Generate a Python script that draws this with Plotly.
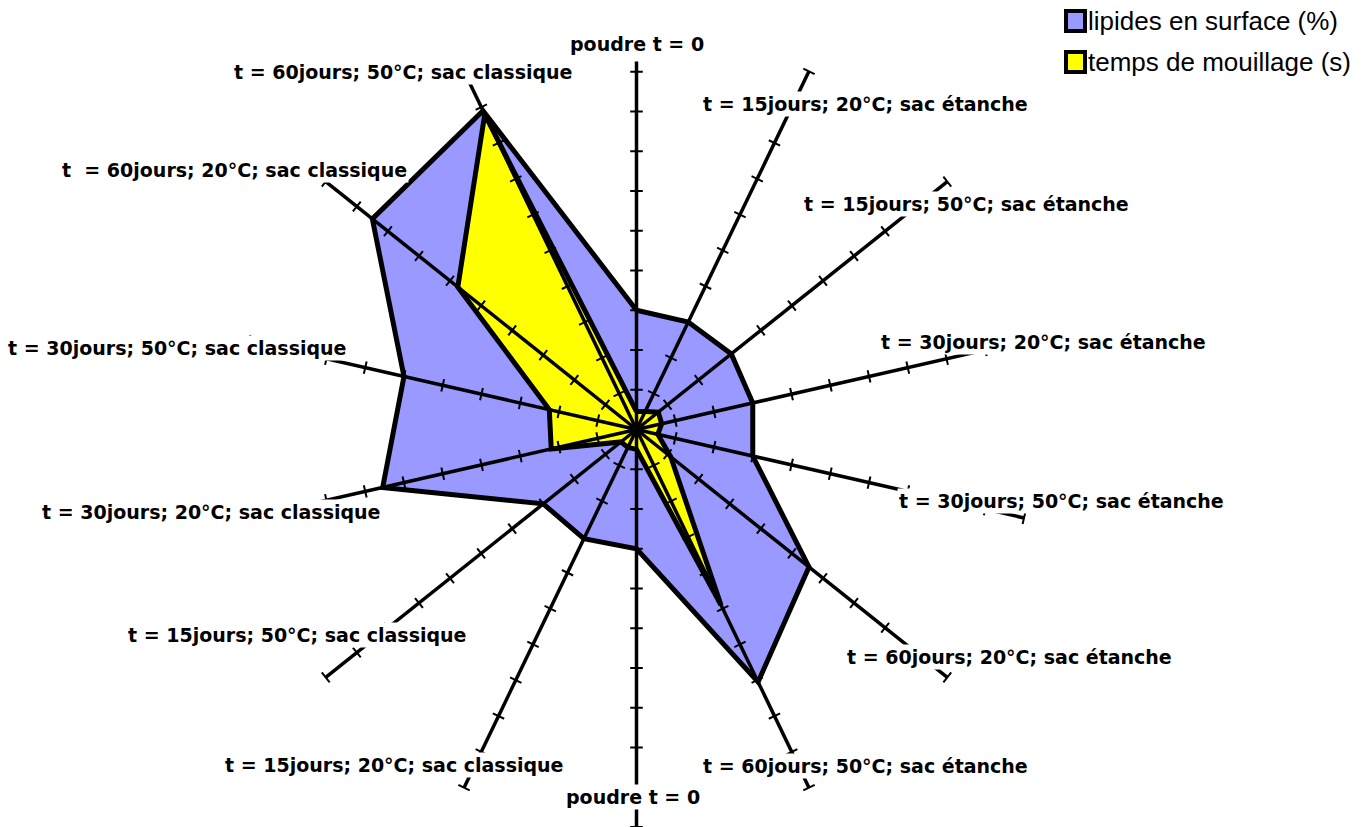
import plotly.graph_objects as go

# Axis labels, clockwise from the top
categories = [
    "poudre t = 0",
    "t = 15jours; 20°C; sac étanche",
    "t = 15jours; 50°C; sac étanche",
    "t = 30jours; 20°C; sac étanche",
    "t = 30jours; 50°C; sac étanche",
    "t = 60jours; 20°C; sac étanche",
    "t = 60jours; 50°C; sac étanche",
    "poudre t = 0",
    "t = 15jours; 20°C; sac classique",
    "t = 15jours; 50°C; sac classique",
    "t = 30jours; 20°C; sac classique",
    "t = 30jours; 50°C; sac classique",
    "t  = 60jours; 20°C; sac classique",
    "t = 60jours; 50°C; sac classique",
]

# Series values
lipides_surface = [3.0, 3.0, 3.05, 3.0, 3.0, 5.55, 7.05, 3.0, 3.05, 3.0, 6.55, 6.0, 8.5, 8.9]
temps_mouillage = [0.45, 0.5, 0.7, 0.65, 0.55, 1.1, 4.9, 0.5, 0.5, 0.5, 2.2, 2.25, 5.75, 8.8]

series_names = ["lipides en surface (%)", "temps de mouillage (s)"]
series_colors = ["#9999FF", "#FFFF00"]

# Radial scale: graduations 1..10 on every spoke
scale_ticks = list(range(1, 11))
r_max = 10

n = len(categories)
step = 360.0 / n
theta = [i * step for i in range(n)]

fig = go.Figure()

# Filled polygons (closed by repeating the first vertex)
for name, vals, col in zip(series_names, [lipides_surface, temps_mouillage], series_colors):
    fig.add_trace(go.Scatterpolar(
        r=vals + vals[:1],
        theta=theta + theta[:1],
        mode="lines",
        fill="toself",
        fillcolor=col,
        line=dict(color="black", width=5),
        name=name,
        showlegend=False,
        hoverinfo="skip",
    ))

# Spokes
spoke_r, spoke_t = [], []
for t in theta:
    spoke_r += [0, r_max, None]
    spoke_t += [t, t, None]
fig.add_trace(go.Scatterpolar(
    r=spoke_r, theta=spoke_t, mode="lines",
    line=dict(color="black", width=3.5),
    showlegend=False, hoverinfo="skip",
))

# Tick marks perpendicular to each spoke
tick_r, tick_t, tick_a = [], [], []
for t in theta:
    for v in scale_ticks:
        tick_r.append(v)
        tick_t.append(t)
        tick_a.append(t)
fig.add_trace(go.Scatterpolar(
    r=tick_r, theta=tick_t, mode="markers",
    marker=dict(symbol="line-ew", size=9, angle=tick_a,
                line=dict(color="black", width=2)),
    showlegend=False, hoverinfo="skip",
))

W, H = 1362, 827

# Axis labels (pixel centres on the page), white boxes hide the spoke ends
label_pos = [
    (637, 44), (866, 104), (966, 204), (1043, 342), (1061, 501),
    (1009, 657), (866, 766), (633, 797), (394, 765), (297, 635),
    (211, 512), (177, 348), (234, 170), (404, 72),
]
label_pad = [6, 1, 1, 1, 1, 1, 1, 1, 1, 1, 1, 1, 1, 1]
for text, (px, py), pad in zip(categories, label_pos, label_pad):
    fig.add_annotation(
        x=px / W, y=1 - py / H, xref="paper", yref="paper",
        text=text, showarrow=False, xanchor="center", yanchor="middle",
        font=dict(family="DejaVu Sans", size=19, color="black", weight="bold"),
        bgcolor="white", borderpad=pad,
    )

# Legend keys: bordered colour squares with the series names
legend_rows = [21, 62]
for name, col, py in zip(series_names, series_colors, legend_rows):
    fig.add_shape(
        type="rect", xref="paper", yref="paper",
        x0=1066 / W, x1=1085 / W, y0=1 - (py + 10) / H, y1=1 - (py - 10) / H,
        fillcolor=col, line=dict(color="black", width=4),
    )
    fig.add_annotation(
        x=1086 / W, y=1 - py / H, xref="paper", yref="paper",
        text=name, showarrow=False, xanchor="left", yanchor="middle",
        font=dict(family="Liberation Sans", size=26, color="black"),
    )

cx, cy, rad = 636.5, 429.5, 397.5
fig.update_layout(
    width=W, height=H,
    margin=dict(l=0, r=0, t=0, b=0),
    paper_bgcolor="white",
    plot_bgcolor="white",
    showlegend=False,
    polar=dict(
        domain=dict(x=[(cx - rad) / W, (cx + rad) / W],
                    y=[max(0.0, (H - cy - rad) / H), (H - cy + rad) / H]),
        bgcolor="white",
        radialaxis=dict(range=[0, r_max], visible=False),
        angularaxis=dict(direction="clockwise", rotation=90, showline=False,
                         showgrid=False, showticklabels=False, ticks=""),
    ),
)

fig.write_html("out.html")
